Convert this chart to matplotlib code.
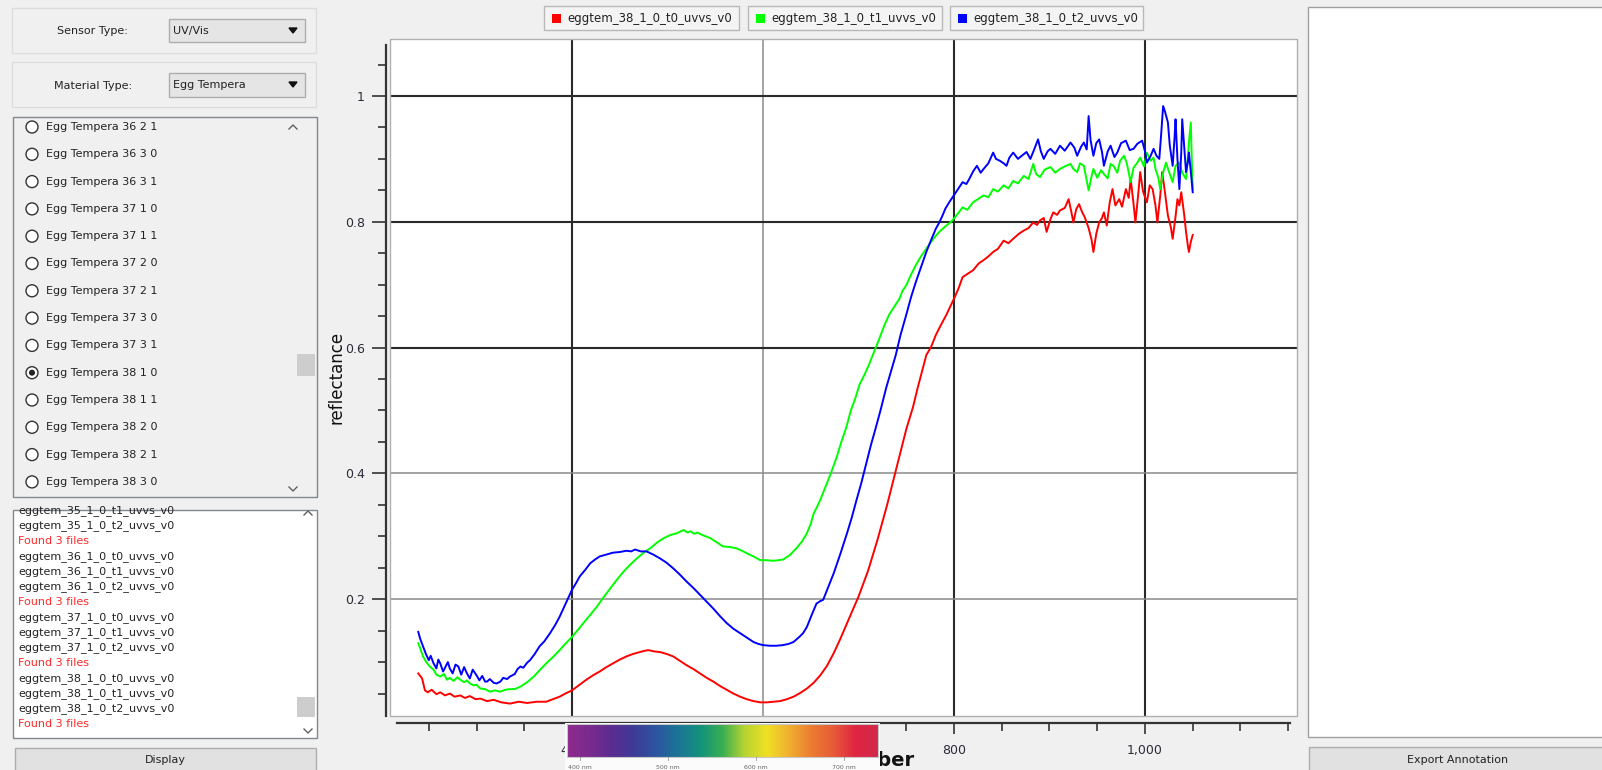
# Spectrum viewer screenshot: three UV/Vis reflectance curves for Egg Tempera 38 1 0
# plus the surrounding GUI panels (sensor/material pickers, file list, log, buttons)

import numpy as np
import matplotlib
matplotlib.use("Agg")
import matplotlib.pyplot as plt
from matplotlib.patches import Rectangle, Circle, Polygon
from matplotlib.colors import LinearSegmentedColormap
from matplotlib.ticker import MultipleLocator, FuncFormatter

W, H = 1602, 770
BG = "#f0f0f0"
FONT = "DejaVu Sans"

# ---- data (wavelength nm, reflectance) ----
T0_NM = [239, 241, 243, 246, 249, 253, 258, 262, 267, 272, 277, 283, 288, 293, 299, 304, 311, 318, 326, 335,
         344, 353, 363, 373, 380, 387, 393, 400, 408, 415, 422, 429, 436, 443, 450, 457, 464, 471, 476, 480,
         486, 492, 499, 506, 513, 520, 527, 534, 541, 548, 555, 562, 569, 576, 583, 590, 597, 604, 611, 618,
         625, 632, 639, 646, 653, 660, 667, 674, 681, 688, 694, 700, 710, 720, 730, 740, 750, 757, 762, 767,
         771, 776, 781, 786, 792, 797, 801, 805, 809, 815, 820, 826, 831, 836, 841, 846, 852, 857, 862, 868,
         873, 878, 883, 887, 890, 894, 897, 901, 904, 908, 911, 916, 920, 923, 925, 928, 931, 934, 937, 941,
         944, 946, 949, 952, 955, 957, 960, 963, 966, 969, 973, 976, 980, 983, 985, 988, 990, 993, 995, 998,
         1002, 1005, 1008, 1011, 1013, 1016, 1018, 1021, 1024, 1027, 1029, 1032, 1034, 1036, 1038, 1041,
         1043, 1045, 1046, 1048, 1050]
T0_R = [0.082, 0.078, 0.074, 0.055, 0.052, 0.056, 0.049, 0.052, 0.047, 0.050, 0.045, 0.047, 0.043, 0.046,
        0.041, 0.042, 0.038, 0.040, 0.036, 0.034, 0.037, 0.035, 0.037, 0.037, 0.041, 0.045, 0.050, 0.055,
        0.064, 0.072, 0.079, 0.085, 0.092, 0.098, 0.104, 0.109, 0.113, 0.116, 0.118, 0.119, 0.117, 0.116,
        0.113, 0.109, 0.102, 0.095, 0.089, 0.082, 0.075, 0.069, 0.062, 0.056, 0.050, 0.045, 0.041, 0.038,
        0.036, 0.036, 0.037, 0.038, 0.041, 0.045, 0.051, 0.058, 0.067, 0.079, 0.094, 0.114, 0.137, 0.162,
        0.183, 0.204, 0.245, 0.295, 0.350, 0.410, 0.470, 0.505, 0.536, 0.565, 0.588, 0.601, 0.620, 0.635,
        0.652, 0.668, 0.681, 0.695, 0.712, 0.718, 0.723, 0.734, 0.739, 0.745, 0.752, 0.757, 0.770, 0.766,
        0.773, 0.781, 0.786, 0.790, 0.799, 0.795, 0.802, 0.806, 0.784, 0.804, 0.815, 0.811, 0.818, 0.822,
        0.836, 0.815, 0.799, 0.820, 0.828, 0.816, 0.807, 0.790, 0.772, 0.752, 0.781, 0.799, 0.806, 0.815,
        0.794, 0.830, 0.852, 0.826, 0.836, 0.824, 0.852, 0.838, 0.868, 0.829, 0.799, 0.845, 0.879, 0.848,
        0.831, 0.858, 0.852, 0.826, 0.799, 0.842, 0.879, 0.846, 0.810, 0.792, 0.773, 0.808, 0.836, 0.826,
        0.847, 0.812, 0.784, 0.761, 0.752, 0.768, 0.779]

T1_NM = [239, 241, 244, 247, 251, 255, 258, 262, 266, 269, 272, 276, 280, 283, 287, 290, 293, 297, 300, 304,
         309, 314, 319, 325, 330, 335, 340, 346, 353, 360, 366, 373, 380, 387, 393, 400, 406, 412, 419, 426,
         433, 440, 447, 454, 461, 468, 475, 482, 489, 496, 503, 510, 514, 517, 521, 524, 528, 531, 538, 545,
         552, 558, 565, 572, 578, 583, 590, 597, 604, 611, 616, 621, 628, 635, 641, 646, 650, 653, 657, 660,
         666, 671, 677, 682, 687, 692, 697, 701, 706, 711, 716, 722, 727, 732, 737, 743, 746, 750, 755, 760,
         765, 771, 776, 781, 786, 792, 797, 801, 805, 809, 814, 820, 825, 831, 836, 841, 846, 852, 857, 862,
         867, 873, 878, 883, 886, 890, 895, 901, 906, 911, 916, 922, 925, 929, 932, 936, 939, 941, 944, 946,
         950, 954, 957, 961, 964, 967, 971, 974, 978, 981, 985, 988, 992, 995, 999, 1002, 1006, 1009, 1011,
         1014, 1016, 1019, 1022, 1025, 1029, 1032, 1036, 1039, 1043, 1045, 1046, 1048, 1049, 1050]
T1_R = [0.130, 0.122, 0.109, 0.101, 0.093, 0.088, 0.080, 0.077, 0.081, 0.072, 0.075, 0.070, 0.076, 0.072,
        0.068, 0.071, 0.066, 0.063, 0.064, 0.058, 0.057, 0.053, 0.055, 0.053, 0.056, 0.057, 0.057, 0.061,
        0.068, 0.077, 0.087, 0.098, 0.108, 0.119, 0.129, 0.140, 0.151, 0.162, 0.175, 0.188, 0.203, 0.217,
        0.231, 0.244, 0.255, 0.265, 0.274, 0.281, 0.290, 0.297, 0.302, 0.305, 0.308, 0.310, 0.306, 0.308,
        0.304, 0.306, 0.301, 0.297, 0.290, 0.284, 0.283, 0.281, 0.277, 0.273, 0.268, 0.262, 0.262, 0.261,
        0.262, 0.263, 0.270, 0.281, 0.292, 0.305, 0.320, 0.336, 0.348, 0.358, 0.381, 0.400, 0.425, 0.450,
        0.472, 0.500, 0.521, 0.541, 0.556, 0.573, 0.592, 0.615, 0.635, 0.652, 0.664, 0.678, 0.690, 0.699,
        0.716, 0.731, 0.744, 0.757, 0.768, 0.778, 0.786, 0.794, 0.800, 0.807, 0.815, 0.823, 0.819, 0.831,
        0.836, 0.842, 0.839, 0.852, 0.848, 0.858, 0.853, 0.865, 0.861, 0.873, 0.868, 0.892, 0.876, 0.871,
        0.883, 0.887, 0.878, 0.884, 0.888, 0.892, 0.884, 0.879, 0.893, 0.889, 0.866, 0.850, 0.872, 0.884,
        0.870, 0.882, 0.876, 0.869, 0.892, 0.889, 0.878, 0.897, 0.905, 0.893, 0.863, 0.886, 0.894, 0.902,
        0.888, 0.910, 0.897, 0.902, 0.884, 0.870, 0.852, 0.878, 0.894, 0.880, 0.863, 0.889, 0.894, 0.878,
        0.868, 0.905, 0.926, 0.958, 0.900, 0.852]

T2_NM = [239, 241, 244, 247, 250, 252, 255, 258, 260, 262, 265, 268, 270, 272, 275, 278, 281, 284, 287, 290,
         293, 296, 300, 303, 306, 309, 311, 314, 318, 321, 325, 328, 332, 335, 340, 343, 346, 349, 353, 356,
         361, 366, 371, 377, 382, 387, 393, 400, 404, 408, 414, 419, 424, 429, 436, 443, 450, 457, 462, 466,
         468, 472, 478, 485, 492, 499, 506, 513, 520, 527, 534, 541, 548, 555, 562, 569, 576, 583, 590, 595,
         600, 607, 614, 621, 627, 632, 638, 642, 646, 651, 656, 660, 663, 668, 674, 681, 688, 693, 698, 703,
         708, 713, 718, 723, 729, 734, 739, 744, 750, 755, 760, 766, 771, 776, 781, 785, 788, 791, 795, 799,
         802, 806, 809, 813, 816, 820, 824, 828, 831, 836, 841, 844, 848, 852, 855, 858, 862, 867, 871, 876,
         880, 884, 888, 891, 894, 898, 901, 906, 911, 916, 922, 926, 929, 933, 936, 939, 941, 943, 946, 949,
         952, 955, 957, 961, 964, 968, 971, 975, 980, 984, 988, 992, 997, 1000, 1002, 1006, 1009, 1012, 1015,
         1017, 1019, 1021, 1024, 1026, 1029, 1031, 1032, 1034, 1036, 1038, 1039, 1041, 1043, 1045, 1046, 1048,
         1050]
T2_R = [0.148, 0.137, 0.125, 0.113, 0.103, 0.110, 0.098, 0.090, 0.104, 0.098, 0.085, 0.094, 0.100, 0.090,
        0.082, 0.096, 0.093, 0.080, 0.092, 0.082, 0.074, 0.088, 0.079, 0.071, 0.078, 0.069, 0.069, 0.073,
        0.067, 0.066, 0.069, 0.075, 0.073, 0.077, 0.081, 0.089, 0.093, 0.091, 0.099, 0.103, 0.113, 0.125,
        0.133, 0.146, 0.158, 0.172, 0.192, 0.215, 0.225, 0.236, 0.247, 0.257, 0.263, 0.268, 0.271, 0.274,
        0.275, 0.277, 0.276, 0.279, 0.278, 0.276, 0.276, 0.271, 0.265, 0.258, 0.249, 0.239, 0.228, 0.218,
        0.207, 0.196, 0.185, 0.173, 0.162, 0.153, 0.146, 0.139, 0.132, 0.129, 0.127, 0.126, 0.126, 0.127,
        0.129, 0.132, 0.140, 0.146, 0.156, 0.175, 0.193, 0.197, 0.199, 0.218, 0.241, 0.272, 0.305, 0.330,
        0.358, 0.385, 0.415, 0.445, 0.472, 0.500, 0.536, 0.562, 0.588, 0.620, 0.652, 0.680, 0.704, 0.730,
        0.752, 0.771, 0.789, 0.800, 0.810, 0.821, 0.831, 0.840, 0.847, 0.856, 0.863, 0.860, 0.868, 0.880,
        0.889, 0.878, 0.884, 0.893, 0.910, 0.900, 0.897, 0.893, 0.889, 0.902, 0.910, 0.900, 0.905, 0.911,
        0.900, 0.915, 0.931, 0.912, 0.900, 0.912, 0.916, 0.908, 0.921, 0.913, 0.926, 0.918, 0.905, 0.919,
        0.926, 0.915, 0.968, 0.930, 0.905, 0.925, 0.931, 0.911, 0.889, 0.912, 0.921, 0.903, 0.910, 0.925,
        0.929, 0.914, 0.916, 0.924, 0.929, 0.912, 0.894, 0.905, 0.916, 0.905, 0.900, 0.940, 0.984, 0.975,
        0.958, 0.921, 0.889, 0.935, 0.963, 0.900, 0.852, 0.910, 0.963, 0.920, 0.879, 0.896, 0.910, 0.880,
        0.847]

SERIES_NAMES = ["eggtem_38_1_0_t0_uvvs_v0", "eggtem_38_1_0_t1_uvvs_v0", "eggtem_38_1_0_t2_uvvs_v0"]
SERIES_COLORS = ["#ff0000", "#00ff00", "#0000ff"]

GRID_X = [400, 600, 800, 1000]
GRID_X_DARK = [True, False, True, True]
GRID_Y = [0.2, 0.4, 0.6, 0.8, 1.0]
GRID_Y_DARK = [False, False, True, True, True]

SENSOR_TYPE = "UV/Vis"
MATERIAL_TYPE = "Egg Tempera"
LIST_ITEMS = ["Egg Tempera 36 2 1", "Egg Tempera 36 3 0", "Egg Tempera 36 3 1", "Egg Tempera 37 1 0",
              "Egg Tempera 37 1 1", "Egg Tempera 37 2 0", "Egg Tempera 37 2 1", "Egg Tempera 37 3 0",
              "Egg Tempera 37 3 1", "Egg Tempera 38 1 0", "Egg Tempera 38 1 1", "Egg Tempera 38 2 0",
              "Egg Tempera 38 2 1", "Egg Tempera 38 3 0"]
SELECTED_ITEM = "Egg Tempera 38 1 0"
LOG_LINES = ["eggtem_35_1_0_t1_uvvs_v0", "eggtem_35_1_0_t2_uvvs_v0", "Found 3 files",
             "eggtem_36_1_0_t0_uvvs_v0", "eggtem_36_1_0_t1_uvvs_v0", "eggtem_36_1_0_t2_uvvs_v0", "Found 3 files",
             "eggtem_37_1_0_t0_uvvs_v0", "eggtem_37_1_0_t1_uvvs_v0", "eggtem_37_1_0_t2_uvvs_v0", "Found 3 files",
             "eggtem_38_1_0_t0_uvvs_v0", "eggtem_38_1_0_t1_uvvs_v0", "eggtem_38_1_0_t2_uvvs_v0", "Found 3 files"]

SPECTRUM_COLORS = ["#8e2a8c", "#7a2a8e", "#5a2c90", "#3d3b96", "#2d56a0", "#1c7596", "#12927c",
                   "#3aae52", "#b6d432", "#f0e024", "#f0b030", "#ec7c30", "#e65c38", "#e02442", "#d02a4a"]
SPECTRUM_LABELS = ["400 nm", "500 nm", "600 nm", "700 nm"]


def box(a, x0, y0, x1, y1, fc, ec, lw=1.0, z=1):
    r = Rectangle((x0, y0), x1 - x0, y1 - y0, facecolor=fc, edgecolor=ec, linewidth=lw, zorder=z)
    a.add_patch(r)
    return r


fig = plt.figure(figsize=(W / 100, H / 100), dpi=100, facecolor=BG)

# ---- GUI background layer in pixel coordinates ----
ui = fig.add_axes([0, 0, 1, 1])
ui.set_xlim(0, W)
ui.set_ylim(H, 0)
ui.axis("off")

# sensor / material group boxes
box(ui, 12, 8, 316, 53, "none", "#dcdcdc")
ui.text(92, 31, "Sensor Type:", ha="center", va="center", fontsize=8, family=FONT, color="#222")
box(ui, 169, 19, 305, 42, "#e5e5e5", "#adadad")
ui.text(173, 31, SENSOR_TYPE, ha="left", va="center", fontsize=8, family=FONT, color="#222")
ui.add_patch(Polygon([(289, 28), (297, 28), (293, 33)], closed=True, color="#111", zorder=3))

box(ui, 12, 62, 316, 107, "none", "#dcdcdc")
ui.text(93, 86, "Material Type:", ha="center", va="center", fontsize=8, family=FONT, color="#222")
box(ui, 169, 73, 305, 97, "#e5e5e5", "#adadad")
ui.text(173, 85, MATERIAL_TYPE, ha="left", va="center", fontsize=8, family=FONT, color="#222")
ui.add_patch(Polygon([(289, 82), (297, 82), (293, 87)], closed=True, color="#111", zorder=3))

# radio list
box(ui, 13, 117, 317, 497, BG, "#828790")
box(ui, 297, 354, 315, 376, "#cdcdcd", "none", z=2)
ui.plot([289, 293, 297], [129, 125, 129], color="#606060", lw=1.0, zorder=3)
ui.plot([289, 293, 297], [487, 491, 487], color="#606060", lw=1.0, zorder=3)
for i, item in enumerate(LIST_ITEMS):
    y = 127 + i * 27.3
    ui.add_patch(Circle((32, y), 6, facecolor="white", edgecolor="#333", linewidth=1.0, zorder=3))
    if item == SELECTED_ITEM:
        ui.add_patch(Circle((32, y), 3, facecolor="#222", edgecolor="none", zorder=4))
    ui.text(46, y, item, ha="left", va="center", fontsize=8, family=FONT, color="#222")

# log box
log_rect = box(ui, 13, 510, 317, 738, "white", "#828790")
box(ui, 297, 697, 315, 717, "#cdcdcd", "none", z=2)
ui.plot([304, 308, 312], [515, 511, 515], color="#606060", lw=1.0, zorder=3)
ui.plot([304, 308, 312], [729, 733, 729], color="#606060", lw=1.0, zorder=3)
for i, line in enumerate(LOG_LINES):
    y = 510.5 + i * 15.25
    t = ui.text(18, y, line, ha="left", va="center", fontsize=8, family=FONT,
                color="#ff2a2a" if line.startswith("Found") else "#222")
    t.set_clip_path(log_rect)

# buttons and right panel
box(ui, 15, 748, 316, 772, "#e1e1e1", "#adadad")
ui.text(165, 760, "Display", ha="center", va="center", fontsize=8, family=FONT, color="#222")
box(ui, 1308, 7, 1606, 737, "white", "#a0a0a0")
box(ui, 1309, 747, 1606, 772, "#e1e1e1", "#adadad")
ui.text(1458, 760, "Export Annotation", ha="center", va="center", fontsize=8, family=FONT, color="#222")

# legend tabs above the chart
LEG_X = [(544, 739), (748, 942), (950, 1143)]
for (x0, x1), name, col in zip(LEG_X, SERIES_NAMES, SERIES_COLORS):
    box(ui, x0, 6, x1, 30, "#f4f4f4", "#b8b8b8")
    box(ui, x0 + 8, 14, x0 + 17, 23, col, "none", z=3)
    ui.text(x0 + 23, 18.5, name, ha="left", va="center", fontsize=8.5, family=FONT, color="#222")

# ---- the chart ----
ax = fig.add_axes([390 / W, 1 - 716 / H, (1297 - 390) / W, (716 - 39) / H])
ax.set_facecolor("white")
ax.set_xlim(209.4, 1159.2)
ax.set_ylim(0.0143, 1.0906)

for gx, dark in zip(GRID_X, GRID_X_DARK):
    ax.axvline(gx, color="#2a2a2a" if dark else "#8a8a8a", lw=1.5 if dark else 1.1, zorder=1)
for gy, dark in zip(GRID_Y, GRID_Y_DARK):
    ax.axhline(gy, color="#2a2a2a" if dark else "#8a8a8a", lw=1.5 if dark else 1.1, zorder=1)

for nm, r, col in zip([T0_NM, T1_NM, T2_NM], [T0_R, T1_R, T2_R], SERIES_COLORS):
    ax.plot(nm, r, color=col, lw=1.4, zorder=3)

ax.add_patch(Rectangle((0, 0), 1, 1, transform=ax.transAxes, fill=False, edgecolor="#b0b0b0",
                       lw=1.0, clip_on=False, zorder=5))

for s in ["top", "right"]:
    ax.spines[s].set_visible(False)
ax.spines["left"].set_position(("outward", 3))
ax.spines["bottom"].set_position(("outward", 5))
for s in ["left", "bottom"]:
    ax.spines[s].set_color("#333")
    ax.spines[s].set_linewidth(1.6)
ax.spines["left"].set_bounds(0.0143, 1.081)
ax.spines["bottom"].set_bounds(217, 1152)

ax.xaxis.set_major_locator(MultipleLocator(200))
ax.xaxis.set_minor_locator(MultipleLocator(50))
ax.yaxis.set_major_locator(MultipleLocator(0.2))
ax.yaxis.set_minor_locator(MultipleLocator(0.05))
ax.xaxis.set_major_formatter(FuncFormatter(lambda v, p: f"{int(round(v)):,}"))
ax.yaxis.set_major_formatter(FuncFormatter(lambda v, p: f"{v:g}"))
ax.tick_params(axis="y", which="major", length=10, width=1.2, color="#333", pad=5,
               labelsize=9, labelcolor="#2a2a3a")
ax.tick_params(axis="y", which="minor", length=6, width=1.2, color="#333")
ax.tick_params(axis="x", which="major", length=8, width=1.2, color="#333", pad=7,
               labelsize=9, labelcolor="#2a2a3a")
ax.tick_params(axis="x", which="minor", length=6, width=1.2, color="#333")

ax.set_ylabel("reflectance", fontsize=12, family=FONT, color="#111")
ax.yaxis.set_label_coords(-0.049, 0.5)
ax.set_xlabel("wavenumber", fontsize=14, family=FONT, color="#111", fontweight="semibold")
ax.xaxis.set_label_coords(0.5, -0.052)

# ---- visible-spectrum strip pasted over the x axis ----
cb = fig.add_axes([565 / W, 0, (880 - 565) / W, (770 - 723) / H])
cb.set_xlim(0, 315)
cb.set_ylim(47, 0)
cb.axis("off")
cb.add_patch(Rectangle((0, 0), 315, 47, facecolor="#fbfbfb", edgecolor="none", zorder=0))
cmap = LinearSegmentedColormap.from_list("spec", SPECTRUM_COLORS)
grad = np.linspace(0, 1, 256)[None, :]
cb.imshow(grad, cmap=cmap, aspect="auto", extent=(2, 313, 34, 1), zorder=1)
cb.add_patch(Rectangle((2, 1), 311, 33, fill=False, edgecolor="#c8c8c8", lw=0.8, zorder=2))
for i, lab in enumerate(SPECTRUM_LABELS):
    x = 15 + i * 88
    cb.plot([x, x], [34, 37], color="#999", lw=0.6)
    cb.text(x, 44.5, lab, ha="center", va="center", fontsize=4.5, family=FONT, color="#666")
cb.set_xlim(0, 315)
cb.set_ylim(47, 0)

fig.savefig("out.png", dpi=100, facecolor=BG)
